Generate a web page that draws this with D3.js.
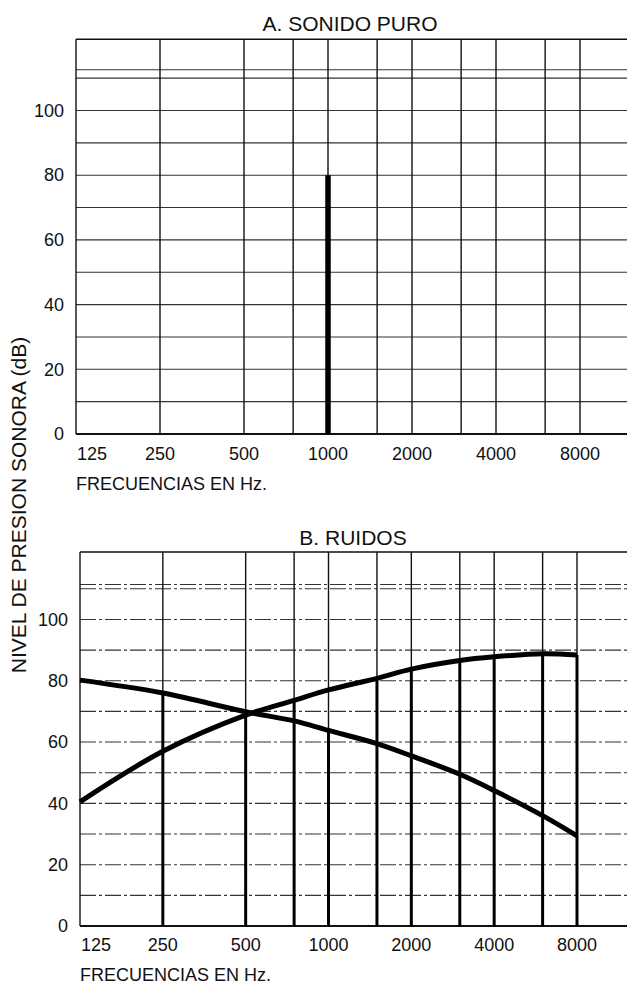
<!DOCTYPE html>
<html>
<head>
<meta charset="utf-8">
<script src="https://cdn.jsdelivr.net/npm/d3@7"></script>
<style>
  html, body { margin: 0; padding: 0; background: #fff; }
  svg { display: block; font-family: 'Liberation Sans', Arial, sans-serif; }
  .tick-label { font-size: 18px; fill: #111; }
  .panel-title { font-size: 21px; fill: #111; }
  .axis-title { font-size: 18px; fill: #111; }
</style>
</head>
<body>
<svg id="chart"></svg>
<script>
// frequency columns of the audiogram grid (Hz)
const freqLabels = [125, 250, 500, 1000, 2000, 4000, 8000];
const freqGrid = [250, 500, 750, 1000, 1500, 2000, 3000, 4000, 6000, 8000];
// dB grid lines (the extra one near the top is printed on the original sheet)
const dbLabels = [0, 20, 40, 60, 80, 100];
const dbGridA = [10, 20, 30, 40, 50, 60, 70, 80, 90, 100, 110, 112.6];
const dbGridB = [10, 20, 30, 40, 50, 60, 70, 80, 90, 100, 110, 111.4];

// A. pure tone: a single line at 1000 Hz
const pureFreq = [1000];
const pureLevel = [80];

// B. noises: two spectra
const noiseFreq = [125, 250, 500, 750, 1000, 1500, 2000, 3000, 4000, 6000, 8000];
const noiseRising = [40.5, 57, 68.8, 73.6, 77, 80.8, 83.8, 86.6, 87.8, 88.8, 88.4];
const noiseFalling = [80.2, 76, 69.9, 66.9, 63.8, 59.5, 55.5, 49.5, 44.2, 36, 29.4];
// thick spectral lines drawn from 0 up to the curves
const barFreq = [250, 500, 750, 1000, 1500, 2000, 3000, 4000, 6000, 8000];
const barTop = [76, 69.9, 73.6, 63.8, 80.8, 83.8, 86.6, 87.8, 88.8, 88.4];

const W = 627, H = 988;
const svg = d3.select('#chart').attr('width', W).attr('height', H);

function drawPanel(cfg) {
    const x = d3.scaleLog().domain([125, 8000]).range([cfg.left, cfg.x8000]);
    const y = d3.scaleLinear().domain([0, 122]).range([cfg.bottom, cfg.top]);
    const g = svg.append('g');

    // horizontal grid
    g.selectAll('.hgrid')
        .data(cfg.dbGrid)
        .join('line')
        .attr('x1', cfg.left).attr('x2', W)
        .attr('y1', d => y(d)).attr('y2', d => y(d))
        .attr('stroke', '#333')
        .attr('stroke-width', 1.1)
        .attr('stroke-dasharray', cfg.dash);

    // top border
    g.append('line')
        .attr('x1', cfg.left).attr('x2', W)
        .attr('y1', y(122)).attr('y2', y(122))
        .attr('stroke', '#111').attr('stroke-width', 1.6);

    // vertical grid + left border
    g.selectAll('.vgrid')
        .data([125].concat(freqGrid))
        .join('line')
        .attr('x1', d => x(d)).attr('x2', d => x(d))
        .attr('y1', y(122)).attr('y2', y(0))
        .attr('stroke', '#111')
        .attr('stroke-width', 1.4);

    // bottom line
    g.append('line')
        .attr('x1', cfg.left).attr('x2', W)
        .attr('y1', y(0)).attr('y2', y(0))
        .attr('stroke', '#111').attr('stroke-width', 2);

    // y tick labels
    g.selectAll('.ylab')
        .data(dbLabels)
        .join('text')
        .attr('class', 'tick-label')
        .attr('x', cfg.left - 12)
        .attr('y', d => y(d))
        .attr('dy', '0.35em')
        .attr('text-anchor', 'end')
        .text(d => d);

    // x tick labels
    g.selectAll('.xlab')
        .data(freqLabels)
        .join('text')
        .attr('class', 'tick-label')
        .attr('x', d => d === 125 ? x(d) + 1 : x(d))
        .attr('y', cfg.tickBase)
        .attr('text-anchor', d => d === 125 ? 'start' : 'middle')
        .text(d => d);

    g.append('text')
        .attr('class', 'axis-title')
        .attr('x', cfg.left)
        .attr('y', cfg.tickBase + 30)
        .text('FRECUENCIAS EN Hz.');

    g.append('text')
        .attr('class', 'panel-title')
        .attr('x', cfg.titleX)
        .attr('y', cfg.titleBase)
        .attr('text-anchor', 'middle')
        .text(cfg.title);

    return { g, x, y };
}

// ---- panel A
const A = drawPanel({
    left: 76, x8000: 580, top: 39.3, bottom: 434,
    dbGrid: dbGridA, dash: null,
    tickBase: 460, title: 'A. SONIDO PURO', titleX: 350, titleBase: 31
});

A.g.selectAll('.pure')
    .data(pureFreq.map((f, i) => ({ f, v: pureLevel[i] })))
    .join('line')
    .attr('x1', d => A.x(d.f)).attr('x2', d => A.x(d.f))
    .attr('y1', A.y(0)).attr('y2', d => A.y(d.v))
    .attr('stroke', '#000')
    .attr('stroke-width', 5.5);

// ---- panel B
const B = drawPanel({
    left: 80, x8000: 577, top: 552, bottom: 926,
    dbGrid: dbGridB, dash: '16,3,3,3',
    tickBase: 951, title: 'B. RUIDOS', titleX: 353, titleBase: 545
});

B.g.selectAll('.bar')
    .data(barFreq.map((f, i) => ({ f, v: barTop[i] })))
    .join('line')
    .attr('x1', d => B.x(d.f)).attr('x2', d => B.x(d.f))
    .attr('y1', B.y(0)).attr('y2', d => B.y(d.v))
    .attr('stroke', '#000')
    .attr('stroke-width', 3);

const curve = d3.line()
    .x(d => B.x(d.f))
    .y(d => B.y(d.v))
    .curve(d3.curveCatmullRom.alpha(0.5));

[noiseRising, noiseFalling].forEach(series => {
    B.g.append('path')
        .datum(noiseFreq.map((f, i) => ({ f, v: series[i] })))
        .attr('d', curve)
        .attr('fill', 'none')
        .attr('stroke', '#000')
        .attr('stroke-width', 5)
        .attr('stroke-linecap', 'butt');
});

// shared y-axis title
svg.append('text')
    .attr('class', 'axis-title')
    .attr('transform', 'translate(26,505) rotate(-90)')
    .attr('text-anchor', 'middle')
    .style('font-size', '21px')
    .text('NIVEL DE PRESION SONORA (dB)');
</script>
</body>
</html>
